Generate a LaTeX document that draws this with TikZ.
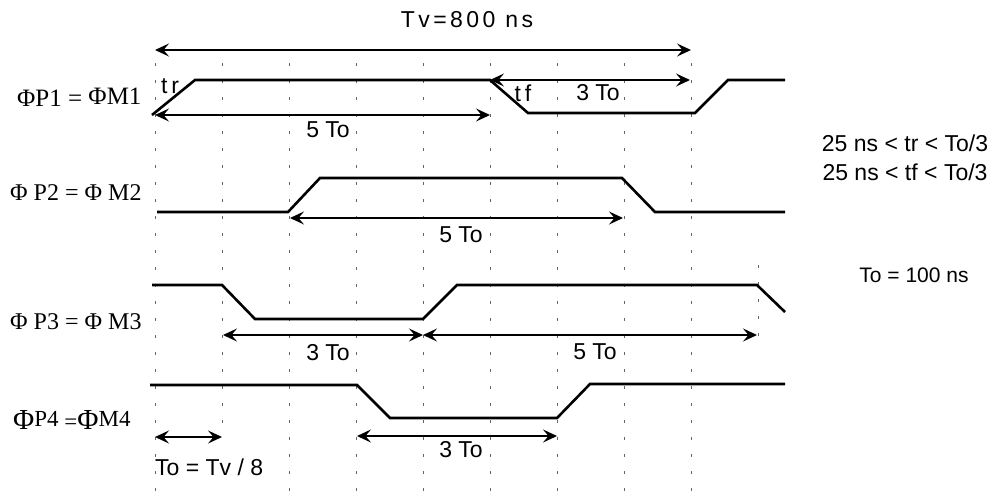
\documentclass[tikz,border=0pt]{standalone}
\usepackage{fontspec}
\setmainfont{Liberation Sans}
\newfontfamily\serifphi{Liberation Serif}
\usetikzlibrary{arrows.meta}
\begin{document}
\begin{tikzpicture}[x=1pt,y=-1pt,
  gridline/.style={black!60, line width=0.7pt, dash pattern=on 3pt off 14pt},
  sig/.style={line width=2.6pt, line join=miter},
  dimarrow/.style={line width=1.5pt, {Stealth[length=14pt,width=13pt,inset=5.5pt]}-{Stealth[length=14pt,width=13pt,inset=5.5pt]}},
  lbl/.style={font=\fontsize{23}{26}\selectfont, inner sep=0pt},
  sname/.style={font=\serifphi\fontsize{25}{28}\selectfont, inner sep=0pt, anchor=west}]
\useasboundingbox (0,0) rectangle (998,499);
% grid
\foreach \x in {155,289,356,423,490,557,624,691} \draw[gridline] (\x,63) -- (\x,499);
\draw[gridline] (222,63) -- (222,437);
\draw[gridline] (758,265) -- (758,340);
% signals
\draw[sig] (152,115) -- (195,80) -- (490,80) -- (528,113) -- (695,113) -- (728,80) -- (785,80);
\draw[sig] (157,212) -- (288,212) -- (320,178) -- (622,178) -- (655,212) -- (785,212);
\draw[sig] (152,285) -- (222,285) -- (255,319) -- (423,319) -- (457,285) -- (757,285) -- (785,312);
\draw[sig] (150,385) -- (357,385) -- (390,418) -- (557,418) -- (590,384) -- (785,384);
% arrow end points
\coordinate (tvA) at (155,50);  \coordinate (tvB) at (691,50);
\coordinate (p1a) at (155,115); \coordinate (p1b) at (490,115);
\coordinate (p1c) at (490,80);  \coordinate (p1d) at (690,80);
\coordinate (p2a) at (290,218); \coordinate (p2b) at (623,218);
\coordinate (p3a) at (223,335); \coordinate (p3b) at (423,335); \coordinate (p3c) at (757,335);
\coordinate (p4a) at (357,436); \coordinate (p4b) at (557,436);
\coordinate (toa) at (155,437); \coordinate (tob) at (222,437);
\draw[dimarrow] (tvA) -- (tvB);
\draw[dimarrow] (p1a) -- (p1b);
\draw[dimarrow] (p1c) -- (p1d);
\draw[dimarrow] (p2a) -- (p2b);
\draw[dimarrow] (p3a) -- (p3b);
\draw[dimarrow] (p3b) -- (p3c);
\draw[dimarrow] (p4a) -- (p4b);
\draw[dimarrow] (toa) -- (tob);
% labels
\node[lbl] (tv) at (467,20) {\addfontfeature{LetterSpace=15}Tv=800 ns};
\node[lbl] (l1a) at (328,130) {5 To};
\node[lbl] (l1b) at (598,93) {3 To};
\node[lbl] (tr) at (170,86) {t\,r};
\node[lbl] (tf) at (523,93) {t\,f};
\node[lbl] (l2) at (461,235) {5 To};
\node[lbl] (l3a) at (328,353) {3 To};
\node[lbl] (l3b) at (595,352) {5 To};
\node[lbl] (l4) at (461,450) {3 To};
\node[lbl, anchor=west] (to) at (155,467) {To = Tv / 8};
\node[lbl] (c1) at (905,143) {25 ns < tr < To/3};
\node[lbl] (c2) at (905,172) {25 ns < tf < To/3};
\node[lbl, font=\fontsize{21}{24}\selectfont] (c3) at (914,275) {To = 100 ns};
\node[sname] (n1) at (17,97) {ΦP1 = \raisebox{2pt}{ΦM1}};
\node[sname, font=\serifphi\fontsize{24}{27}\selectfont] (n2) at (10,193) {Φ P2 = Φ M2};
\node[sname, font=\serifphi\fontsize{24}{27}\selectfont] (n3) at (10,322) {Φ P3 = Φ M3};
\node[sname, font=\serifphi\fontsize{23}{26}\selectfont] (n4) at (13,420) {{\fontsize{29}{30}\selectfont Φ}\raisebox{3pt}{P4} ={\fontsize{29}{30}\selectfont Φ}\raisebox{3pt}{M4}};
\end{tikzpicture}
\end{document}
